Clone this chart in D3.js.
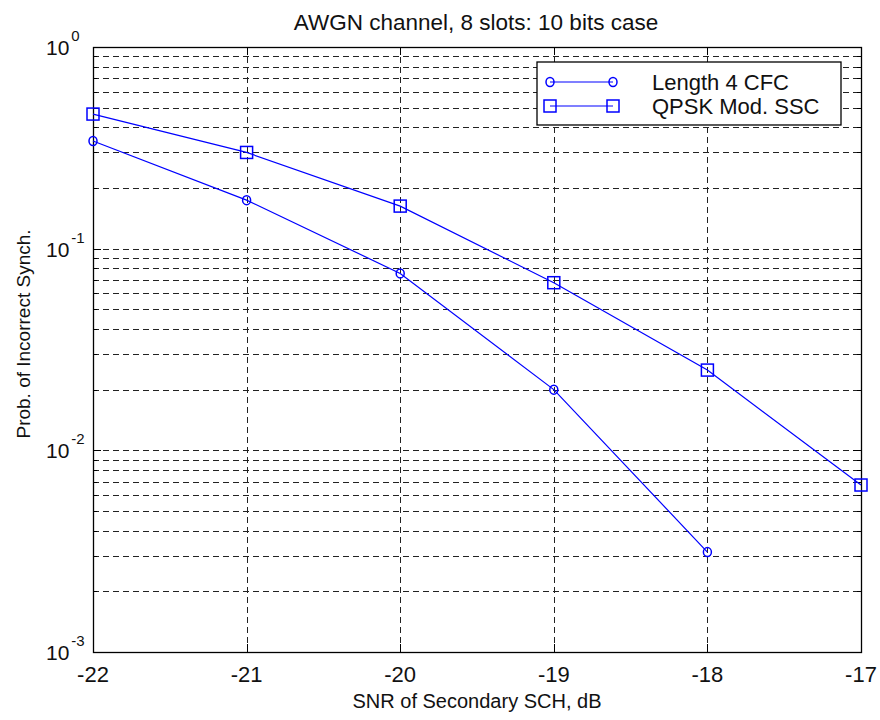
<!DOCTYPE html>
<html>
<head>
<meta charset="utf-8">
<script src="https://cdn.jsdelivr.net/npm/d3@7"></script>
<style>
	body { margin: 0; background: #fff; }
	text { font-family: 'Liberation Sans', Arial, sans-serif; fill: #111; }
</style>
</head>
<body>
<svg></svg>
<script>
const width = 880;
const height = 720;

// data
const snr = [-22, -21, -20, -19, -18, -17];
const cfcProb = [0.342, 0.174, 0.0754, 0.02, 0.00313];
const sscProb = [0.465, 0.3, 0.1626, 0.0678, 0.025, 0.00673];
const xTicks = [-22, -21, -20, -19, -18, -17];
const yDecades = [-3, -2, -1, 0];
const seriesNames = ['Length 4 CFC', 'QPSK Mod. SSC'];

const margin = { top: 47, right: 19, bottom: 68, left: 93 };
const plotW = width - margin.left - margin.right;
const plotH = height - margin.top - margin.bottom;

const svg = d3.select('svg').attr('width', width).attr('height', height);

const x = d3.scaleLinear().domain([-22, -17]).range([0, plotW]);
const y = d3.scaleLog().domain([1e-3, 1]).range([plotH, 0]);

const g = svg.append('g').attr('transform', `translate(${margin.left},${margin.top})`);

// minor + major values for the log grid
const yGrid = [];
yDecades.slice(0, -1).forEach((e) => {
	for (let m = 1; m < 10; m++) yGrid.push(m * Math.pow(10, e));
});
yGrid.push(1);

// grid
const grid = g.append('g').attr('class', 'grid')
	.attr('stroke', '#222').attr('stroke-width', 1).attr('stroke-dasharray', '6,4');

grid.selectAll('line.h')
	.data(yGrid)
	.enter()
	.append('line')
	.attr('class', 'h')
	.attr('x1', 0)
	.attr('x2', plotW)
	.attr('y1', (d) => Math.round(y(d)) + 0.5)
	.attr('y2', (d) => Math.round(y(d)) + 0.5);

grid.selectAll('line.v')
	.data(xTicks.slice(1, -1))
	.enter()
	.append('line')
	.attr('class', 'v')
	.attr('y1', 0)
	.attr('y2', plotH)
	.attr('x1', (d) => Math.round(x(d)) + 0.5)
	.attr('x2', (d) => Math.round(x(d)) + 0.5);

// tick marks on all four sides (inside)
const ticks = g.append('g').attr('stroke', '#000').attr('stroke-width', 1);
xTicks.forEach((t) => {
	const px = Math.round(x(t)) + 0.5;
	ticks.append('line').attr('x1', px).attr('x2', px).attr('y1', plotH).attr('y2', plotH - 8);
	ticks.append('line').attr('x1', px).attr('x2', px).attr('y1', 0).attr('y2', 8);
});
yGrid.forEach((v) => {
	const py = Math.round(y(v)) + 0.5;
	const major = Math.abs(Math.log10(v) - Math.round(Math.log10(v))) < 1e-9;
	const len = major ? 8 : 4;
	ticks.append('line').attr('x1', 0).attr('x2', len).attr('y1', py).attr('y2', py);
	ticks.append('line').attr('x1', plotW).attr('x2', plotW - len).attr('y1', py).attr('y2', py);
});

// box
g.append('rect')
	.attr('x', 0.5)
	.attr('y', 0.5)
	.attr('width', plotW)
	.attr('height', plotH)
	.attr('fill', 'none')
	.attr('stroke', '#000')
	.attr('stroke-width', 1.3);

// x tick labels
g.selectAll('text.xt')
	.data(xTicks)
	.enter()
	.append('text')
	.attr('class', 'xt')
	.attr('x', (d) => x(d))
	.attr('y', plotH + 30)
	.attr('text-anchor', 'middle')
	.style('font-size', '22px')
	.text((d) => (d < 0 ? '-' + Math.abs(d) : d));

// y tick labels 10^e
const yt = g.selectAll('text.yt')
	.data(yDecades)
	.enter()
	.append('text')
	.attr('class', 'yt')
	.attr('x', 46 - margin.left)
	.attr('y', (d) => y(Math.pow(10, d)) + 8)
	.style('font-size', '21px');
yt.append('tspan').text('10');
yt.append('tspan')
	.attr('dx', 2)
	.attr('dy', -14)
	.style('font-size', '15px')
	.text((d) => (d < 0 ? '-' + Math.abs(d) : d));

// series
const line = d3.line().x((d) => x(d[0])).y((d) => y(d[1]));
const cfcData = cfcProb.map((v, i) => [snr[i], v]);
const sscData = sscProb.map((v, i) => [snr[i], v]);

[cfcData, sscData].forEach((data) => {
	g.append('path')
		.datum(data)
		.attr('d', line)
		.attr('fill', 'none')
		.attr('stroke', '#0000ff')
		.attr('stroke-width', 1.2);
});

g.selectAll('ellipse.cfc')
	.data(cfcData)
	.enter()
	.append('ellipse')
	.attr('class', 'cfc')
	.attr('cx', (d) => x(d[0]))
	.attr('cy', (d) => y(d[1]))
	.attr('rx', 4)
	.attr('ry', 4.5)
	.attr('fill', 'none')
	.attr('stroke', '#0000ff')
	.attr('stroke-width', 1.5);

g.selectAll('rect.ssc')
	.data(sscData)
	.enter()
	.append('rect')
	.attr('class', 'ssc')
	.attr('x', (d) => x(d[0]) - 6)
	.attr('y', (d) => y(d[1]) - 6)
	.attr('width', 12)
	.attr('height', 12)
	.attr('fill', 'none')
	.attr('stroke', '#0000ff')
	.attr('stroke-width', 1.5);

// legend
const lg = svg.append('g').attr('transform', 'translate(537,62)');
lg.append('rect')
	.attr('width', 304)
	.attr('height', 63)
	.attr('fill', '#fff')
	.attr('stroke', '#000')
	.attr('stroke-width', 1.3);

seriesNames.forEach((name, i) => {
	const ly = 20 + i * 24;
	lg.append('line')
		.attr('x1', 13).attr('x2', 76)
		.attr('y1', ly).attr('y2', ly)
		.attr('stroke', '#0000ff').attr('stroke-width', 1.2);
	[13, 76].forEach((lx) => {
		if (i === 0) {
			lg.append('ellipse').attr('cx', lx).attr('cy', ly).attr('rx', 4).attr('ry', 4.5)
				.attr('fill', 'none').attr('stroke', '#0000ff').attr('stroke-width', 1.5);
		} else {
			lg.append('rect').attr('x', lx - 6).attr('y', ly - 6).attr('width', 12).attr('height', 12)
				.attr('fill', 'none').attr('stroke', '#0000ff').attr('stroke-width', 1.5);
		}
	});
	lg.append('text')
		.attr('x', 115)
		.attr('y', ly + 8)
		.style('font-size', '22px')
		.text(name);
});

// title and axis labels
svg.append('text')
	.attr('x', 476)
	.attr('y', 30)
	.attr('text-anchor', 'middle')
	.style('font-size', '22.5px')
	.text('AWGN channel, 8 slots: 10 bits case');

svg.append('text')
	.attr('x', margin.left + plotW / 2)
	.attr('y', 708)
	.attr('text-anchor', 'middle')
	.style('font-size', '20px')
	.text('SNR of Secondary SCH, dB');

svg.append('text')
	.attr('transform', `translate(30,334) rotate(-90)`)
	.attr('text-anchor', 'middle')
	.style('font-size', '19px')
	.text('Prob. of Incorrect Synch.');
</script>
</body>
</html>
